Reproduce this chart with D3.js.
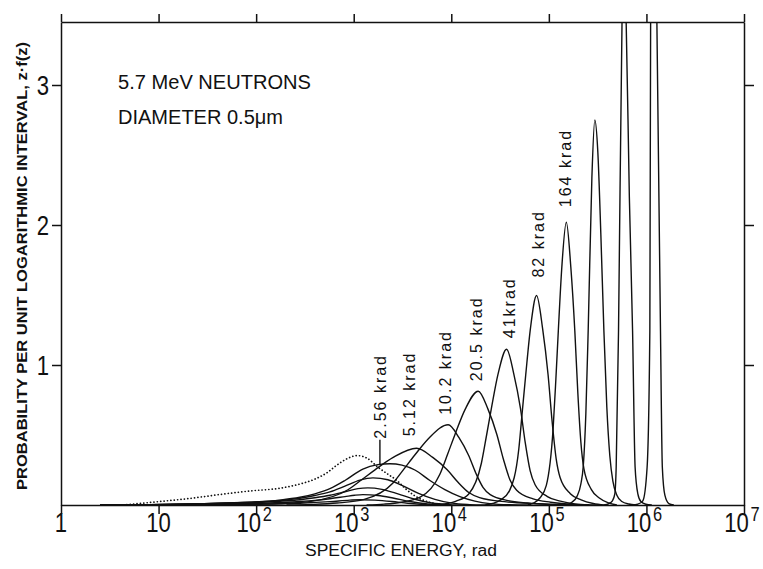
<!DOCTYPE html>
<html>
<head>
<meta charset="utf-8">
<script src="https://cdn.jsdelivr.net/npm/d3@7"></script>
<style>
  body { margin: 0; background: #fff; }
  svg { display: block; }
  text { fill: #111; font-family: "Liberation Sans", Arial, sans-serif; }
</style>
</head>
<body>
<svg id="chart" width="763" height="569"></svg>
<script>
// ---- data -------------------------------------------------------------
// decade exponents for the specific-energy axis (z = 10^e rad)
const xTickExp = [0, 1, 2, 3, 4, 5, 6, 7];
const yTicks = [1, 2, 3];

// single-event spectrum (dotted): log10 z and z·f(z)
const singleLgz = [0.605, 0.758, 1.014, 1.322, 1.629, 1.936, 2.244, 2.449, 2.602, 2.725, 2.828, 2.930, 3.033, 3.135, 3.248, 3.350, 3.443, 3.525, 3.627, 3.750, 3.883, 3.986];
const singleVal = [0, 0.008, 0.025, 0.047, 0.075, 0.10, 0.12, 0.15, 0.185, 0.23, 0.285, 0.33, 0.353, 0.335, 0.27, 0.22, 0.175, 0.12, 0.065, 0.025, 0.005, 0];

// multi-event distributions, one pair of arrays per absorbed dose
const lgz016 = [0.400, 1.424, 1.936, 2.449, 2.756, 2.961, 3.064, 3.217, 3.391, 3.555, 3.730, 3.883];
const val016 = [0, 0.003, 0.006, 0.013, 0.024, 0.035, 0.038, 0.035, 0.025, 0.012, 0.003, 0];

const lgz032 = [0.400, 0.912, 1.424, 1.936, 2.244, 2.449, 2.602, 2.756, 2.910, 3.012, 3.094, 3.248, 3.402, 3.576, 3.760, 3.934];
const val032 = [0, 0.001, 0.005, 0.011, 0.018, 0.025, 0.033, 0.045, 0.06, 0.07, 0.074, 0.068, 0.05, 0.025, 0.007, 0];

const lgz064 = [0.400, 0.912, 1.424, 1.936, 2.244, 2.449, 2.602, 2.756, 2.910, 3.043, 3.145, 3.289, 3.453, 3.617, 3.801, 3.986, 4.139];
const val064 = [0, 0.002, 0.008, 0.017, 0.027, 0.038, 0.052, 0.07, 0.095, 0.117, 0.122, 0.112, 0.08, 0.043, 0.014, 0.003, 0];

const lgz128 = [0.605, 0.912, 1.424, 1.936, 2.244, 2.449, 2.602, 2.756, 2.910, 3.064, 3.197, 3.350, 3.494, 3.658, 3.832, 4.006, 4.191, 4.344];
const val128 = [0, 0.003, 0.01, 0.02, 0.032, 0.048, 0.068, 0.094, 0.135, 0.178, 0.194, 0.18, 0.14, 0.085, 0.04, 0.013, 0.003, 0];

const lgz256 = [0.400, 0.912, 1.424, 1.936, 2.244, 2.449, 2.602, 2.756, 2.910, 3.094, 3.248, 3.371, 3.494, 3.627, 3.781, 3.934, 4.088, 4.242, 4.395, 4.600, 4.805];
const val256 = [0, 0.003, 0.009, 0.02, 0.035, 0.055, 0.08, 0.117, 0.175, 0.257, 0.288, 0.295, 0.285, 0.25, 0.175, 0.11, 0.06, 0.028, 0.01, 0.002, 0];

const lgz512 = [1.593, 1.913, 2.233, 2.579, 2.941, 3.085, 3.218, 3.405, 3.644, 3.810, 3.958, 4.069, 4.179, 4.290, 4.567, 4.862, 5.194, 5.507];
const val512 = [0, 0.003, 0.010, 0.028, 0.109, 0.182, 0.251, 0.340, 0.405, 0.340, 0.251, 0.162, 0.089, 0.053, 0.022, 0.010, 0.003, 0];

const lgz102 = [2.311, 2.570, 2.828, 3.108, 3.400, 3.516, 3.624, 3.775, 3.968, 4.079, 4.177, 4.251, 4.325, 4.399, 4.583, 4.780, 5.001, 5.210];
const val102 = [0, 0.004, 0.014, 0.040, 0.155, 0.258, 0.355, 0.481, 0.573, 0.481, 0.355, 0.229, 0.126, 0.074, 0.031, 0.014, 0.004, 0];

const lgz205 = [3.132, 3.310, 3.488, 3.681, 3.883, 3.964, 4.038, 4.142, 4.276, 4.377, 4.467, 4.535, 4.602, 4.670, 4.839, 5.019, 5.222, 5.414];
const val205 = [0, 0.006, 0.020, 0.056, 0.220, 0.366, 0.504, 0.683, 0.813, 0.683, 0.504, 0.325, 0.179, 0.106, 0.044, 0.020, 0.006, 0];

const lgz41 = [3.817, 3.934, 4.050, 4.177, 4.309, 4.362, 4.411, 4.479, 4.567, 4.641, 4.709, 4.758, 4.808, 4.859, 4.985, 5.118, 5.268, 5.410];
const val41 = [0, 0.008, 0.028, 0.077, 0.30, 0.50, 0.69, 0.935, 1.113, 0.935, 0.69, 0.445, 0.245, 0.145, 0.060, 0.028, 0.008, 0];

const lgz82 = [4.341, 4.424, 4.507, 4.597, 4.692, 4.728, 4.763, 4.811, 4.874, 4.936, 4.992, 5.033, 5.075, 5.116, 5.220, 5.331, 5.455, 5.571];
const val82 = [0, 0.011, 0.037, 0.103, 0.40, 0.67, 0.93, 1.26, 1.496, 1.26, 0.93, 0.60, 0.33, 0.195, 0.081, 0.037, 0.011, 0];

const lgz164 = [4.785, 4.846, 4.908, 4.974, 5.044, 5.072, 5.097, 5.133, 5.179, 5.225, 5.266, 5.297, 5.328, 5.359, 5.436, 5.517, 5.610, 5.697];
const val164 = [0, 0.015, 0.05, 0.14, 0.55, 0.9, 1.245, 1.7, 2.02, 1.7, 1.245, 0.8, 0.45, 0.26, 0.11, 0.05, 0.015, 0];

const lgz328 = [5.174, 5.236, 5.287, 5.328, 5.353, 5.379, 5.403, 5.441, 5.471, 5.502, 5.533, 5.564, 5.594, 5.625, 5.656, 5.697, 5.748, 5.820, 5.891];
const val328 = [0, 0.02, 0.06, 0.15, 0.28, 0.65, 1.245, 2.34, 2.75, 2.52, 1.93, 1.245, 0.70, 0.35, 0.17, 0.07, 0.025, 0.007, 0];

const lgz656 = [5.564, 5.615, 5.651, 5.676, 5.690, 5.714, 5.750, 5.771, 5.792, 5.825, 5.858, 5.884, 5.912, 5.943, 5.994, 6.055];
const val656 = [0, 0.01, 0.03, 0.08, 0.27, 1.245, 3.46, 3.82, 3.46, 2.2, 1.245, 0.27, 0.08, 0.025, 0.005, 0];

const lgz1312 = [5.850, 5.912, 5.963, 6.007, 6.035, 6.043, 6.076, 6.107, 6.144, 6.163, 6.189, 6.230, 6.281];
const val1312 = [0, 0.006, 0.03, 0.27, 1.245, 3.46, 5.5, 3.46, 1.245, 0.27, 0.07, 0.01, 0];

const doseLabels = ["0.16 krad", "0.32 krad", "0.64 krad", "1.28 krad", "2.56 krad", "5.12 krad",
                    "10.2 krad", "20.5 krad", "41krad", "82 krad", "164 krad", "328 krad", "656 krad", "1312 krad"];
const doseLgz = [lgz016, lgz032, lgz064, lgz128, lgz256, lgz512, lgz102, lgz205, lgz41, lgz82, lgz164, lgz328, lgz656, lgz1312];
const doseVal = [val016, val032, val064, val128, val256, val512, val102, val205, val41, val82, val164, val328, val656, val1312];
const labelledDoses = ["2.56 krad", "5.12 krad", "10.2 krad", "20.5 krad", "41krad", "82 krad", "164 krad"];

// ---- layout -----------------------------------------------------------
const svg = d3.select("#chart");
const pLeft = 61, pRight = 744, pTop = 22, pBottom = 505;

const x = d3.scaleLog().domain([1, 1e7]).range([pLeft, pRight]);
const y = d3.scaleLinear().domain([0, 3.45]).range([pBottom, pTop]);

const toPts = (lg, v) => lg.map((d, i) => ({ z: Math.pow(10, d), v: v[i] }));
const line = d3.line().x(d => x(d.z)).y(d => y(d.v)).curve(d3.curveMonotoneX);

svg.append("defs").append("clipPath").attr("id", "plot")
  .append("rect").attr("x", pLeft).attr("y", pTop)
  .attr("width", pRight - pLeft).attr("height", pBottom - pTop);

const curves = svg.append("g").attr("clip-path", "url(#plot)");

// single-event spectrum
curves.append("path")
  .attr("d", line(toPts(singleLgz, singleVal)))
  .attr("fill", "none").attr("stroke", "#111")
  .attr("stroke-width", 1.7)
  .attr("stroke-dasharray", "0.1 3.3")
  .attr("stroke-linecap", "round");

// dose curves
const series = doseLabels.map((name, i) => ({ name, pts: toPts(doseLgz[i], doseVal[i]) }));
curves.selectAll("path.dose").data(series).join("path")
  .attr("class", "dose")
  .attr("d", d => line(d.pts))
  .attr("fill", "none").attr("stroke", "#111")
  .attr("stroke-width", 1.4)
  .attr("stroke-linejoin", "round");

// ---- axes / frame -------------------------------------------------------
const decades = xTickExp.map(e => Math.pow(10, e));
const styleAxis = g => {
  g.selectAll("path.domain").attr("stroke", "#111").attr("stroke-width", 1.5);
  g.selectAll(".tick line").attr("stroke", "#111").attr("stroke-width", 1.5);
  g.selectAll(".tick text").remove();
};
svg.append("g").attr("transform", `translate(0,${pBottom})`)
  .call(d3.axisBottom(x).tickValues(decades).tickSize(9).tickSizeOuter(0)).call(styleAxis);
svg.append("g").attr("transform", `translate(0,${pTop})`)
  .call(d3.axisTop(x).tickValues(decades).tickSize(8).tickSizeOuter(0)).call(styleAxis);
svg.append("g").attr("transform", `translate(${pLeft},0)`)
  .call(d3.axisLeft(y).tickValues(yTicks).tickSize(9).tickSizeOuter(0)).call(styleAxis);
svg.append("g").attr("transform", `translate(${pRight},0)`)
  .call(d3.axisRight(y).tickValues(yTicks).tickSize(10).tickSizeOuter(0)).call(styleAxis);

// x tick labels: 1, 10, 10², ... 10⁷
xTickExp.forEach(e => {
  const g = svg.append("g")
    .attr("transform", `translate(${x(Math.pow(10, e)) - (e > 1 ? 2 : 0)},532) scale(0.82,1)`);
  const t = g.append("text").attr("text-anchor", "middle")
    .attr("font-size", 27).attr("font-weight", 300);
  if (e === 0) t.text("1");
  else if (e === 1) t.text("10");
  else {
    t.append("tspan").text("10");
    t.append("tspan").attr("dy", -11).attr("dx", 2).attr("font-size", 20).text(e);
  }
});

// y tick labels
yTicks.forEach(v => {
  svg.append("g").attr("transform", `translate(49,${y(v) + 10}) scale(0.82,1)`)
    .append("text").attr("text-anchor", "end").attr("font-size", 27).text(v);
});

// axis titles
svg.append("text")
  .attr("x", 305).attr("y", 556)
  .attr("font-size", 16)
  .attr("textLength", 192).attr("lengthAdjust", "spacingAndGlyphs")
  .text("SPECIFIC ENERGY, rad");

svg.append("text")
  .attr("transform", "translate(27,490) rotate(-90)")
  .attr("font-size", 14).attr("font-weight", "bold")
  .attr("textLength", 448).attr("lengthAdjust", "spacingAndGlyphs")
  .text("PROBABILITY PER UNIT LOGARITHMIC INTERVAL, z·f(z)");

// description
svg.append("text").attr("x", 118).attr("y", 89)
  .attr("font-size", 20)
  .attr("textLength", 193).attr("lengthAdjust", "spacingAndGlyphs")
  .text("5.7 MeV NEUTRONS");
svg.append("text").attr("x", 118).attr("y", 124)
  .attr("font-size", 20)
  .attr("textLength", 165).attr("lengthAdjust", "spacingAndGlyphs")
  .text("DIAMETER 0.5\u03bcm");

// ---- dose labels above peaks ---------------------------------------------
const labelOffset = {            // horizontal shift and gap above the peak, px
  "2.56 krad": [-10, 25], "5.12 krad": [-8, 12], "10.2 krad": [-3, 10],
  "20.5 krad": [-2, 10], "41krad": [2, 11], "82 krad": [1, 18], "164 krad": [-1, 15]
};
const interp = (pts, zq) => {
  for (let i = 1; i < pts.length; i++) {
    if (pts[i].z >= zq) {
      const a = pts[i - 1], b = pts[i];
      const t = (Math.log10(zq) - Math.log10(a.z)) / (Math.log10(b.z) - Math.log10(a.z));
      return a.v + t * (b.v - a.v);
    }
  }
  return 0;
};
series.filter(s => labelledDoses.includes(s.name)).forEach(s => {
  const peak = s.pts.reduce((m, p) => (p.v > m.v ? p : m));
  const [dx, gap] = labelOffset[s.name];
  const cx = x(peak.z) + dx;
  const by = y(peak.v) - gap;
  svg.append("text")
    .attr("transform", `translate(${cx + 6},${by}) rotate(-90)`)
    .attr("font-size", 16).attr("letter-spacing", 2)
    .text(s.name);
  if (gap > 20) {
    // leader line down to the curve
    const zq = x.invert(cx);
    svg.append("line")
      .attr("x1", cx).attr("x2", cx)
      .attr("y1", by + 1).attr("y2", y(interp(s.pts, zq)))
      .attr("stroke", "#111").attr("stroke-width", 1.4);
  }
});
</script>
</body>
</html>
